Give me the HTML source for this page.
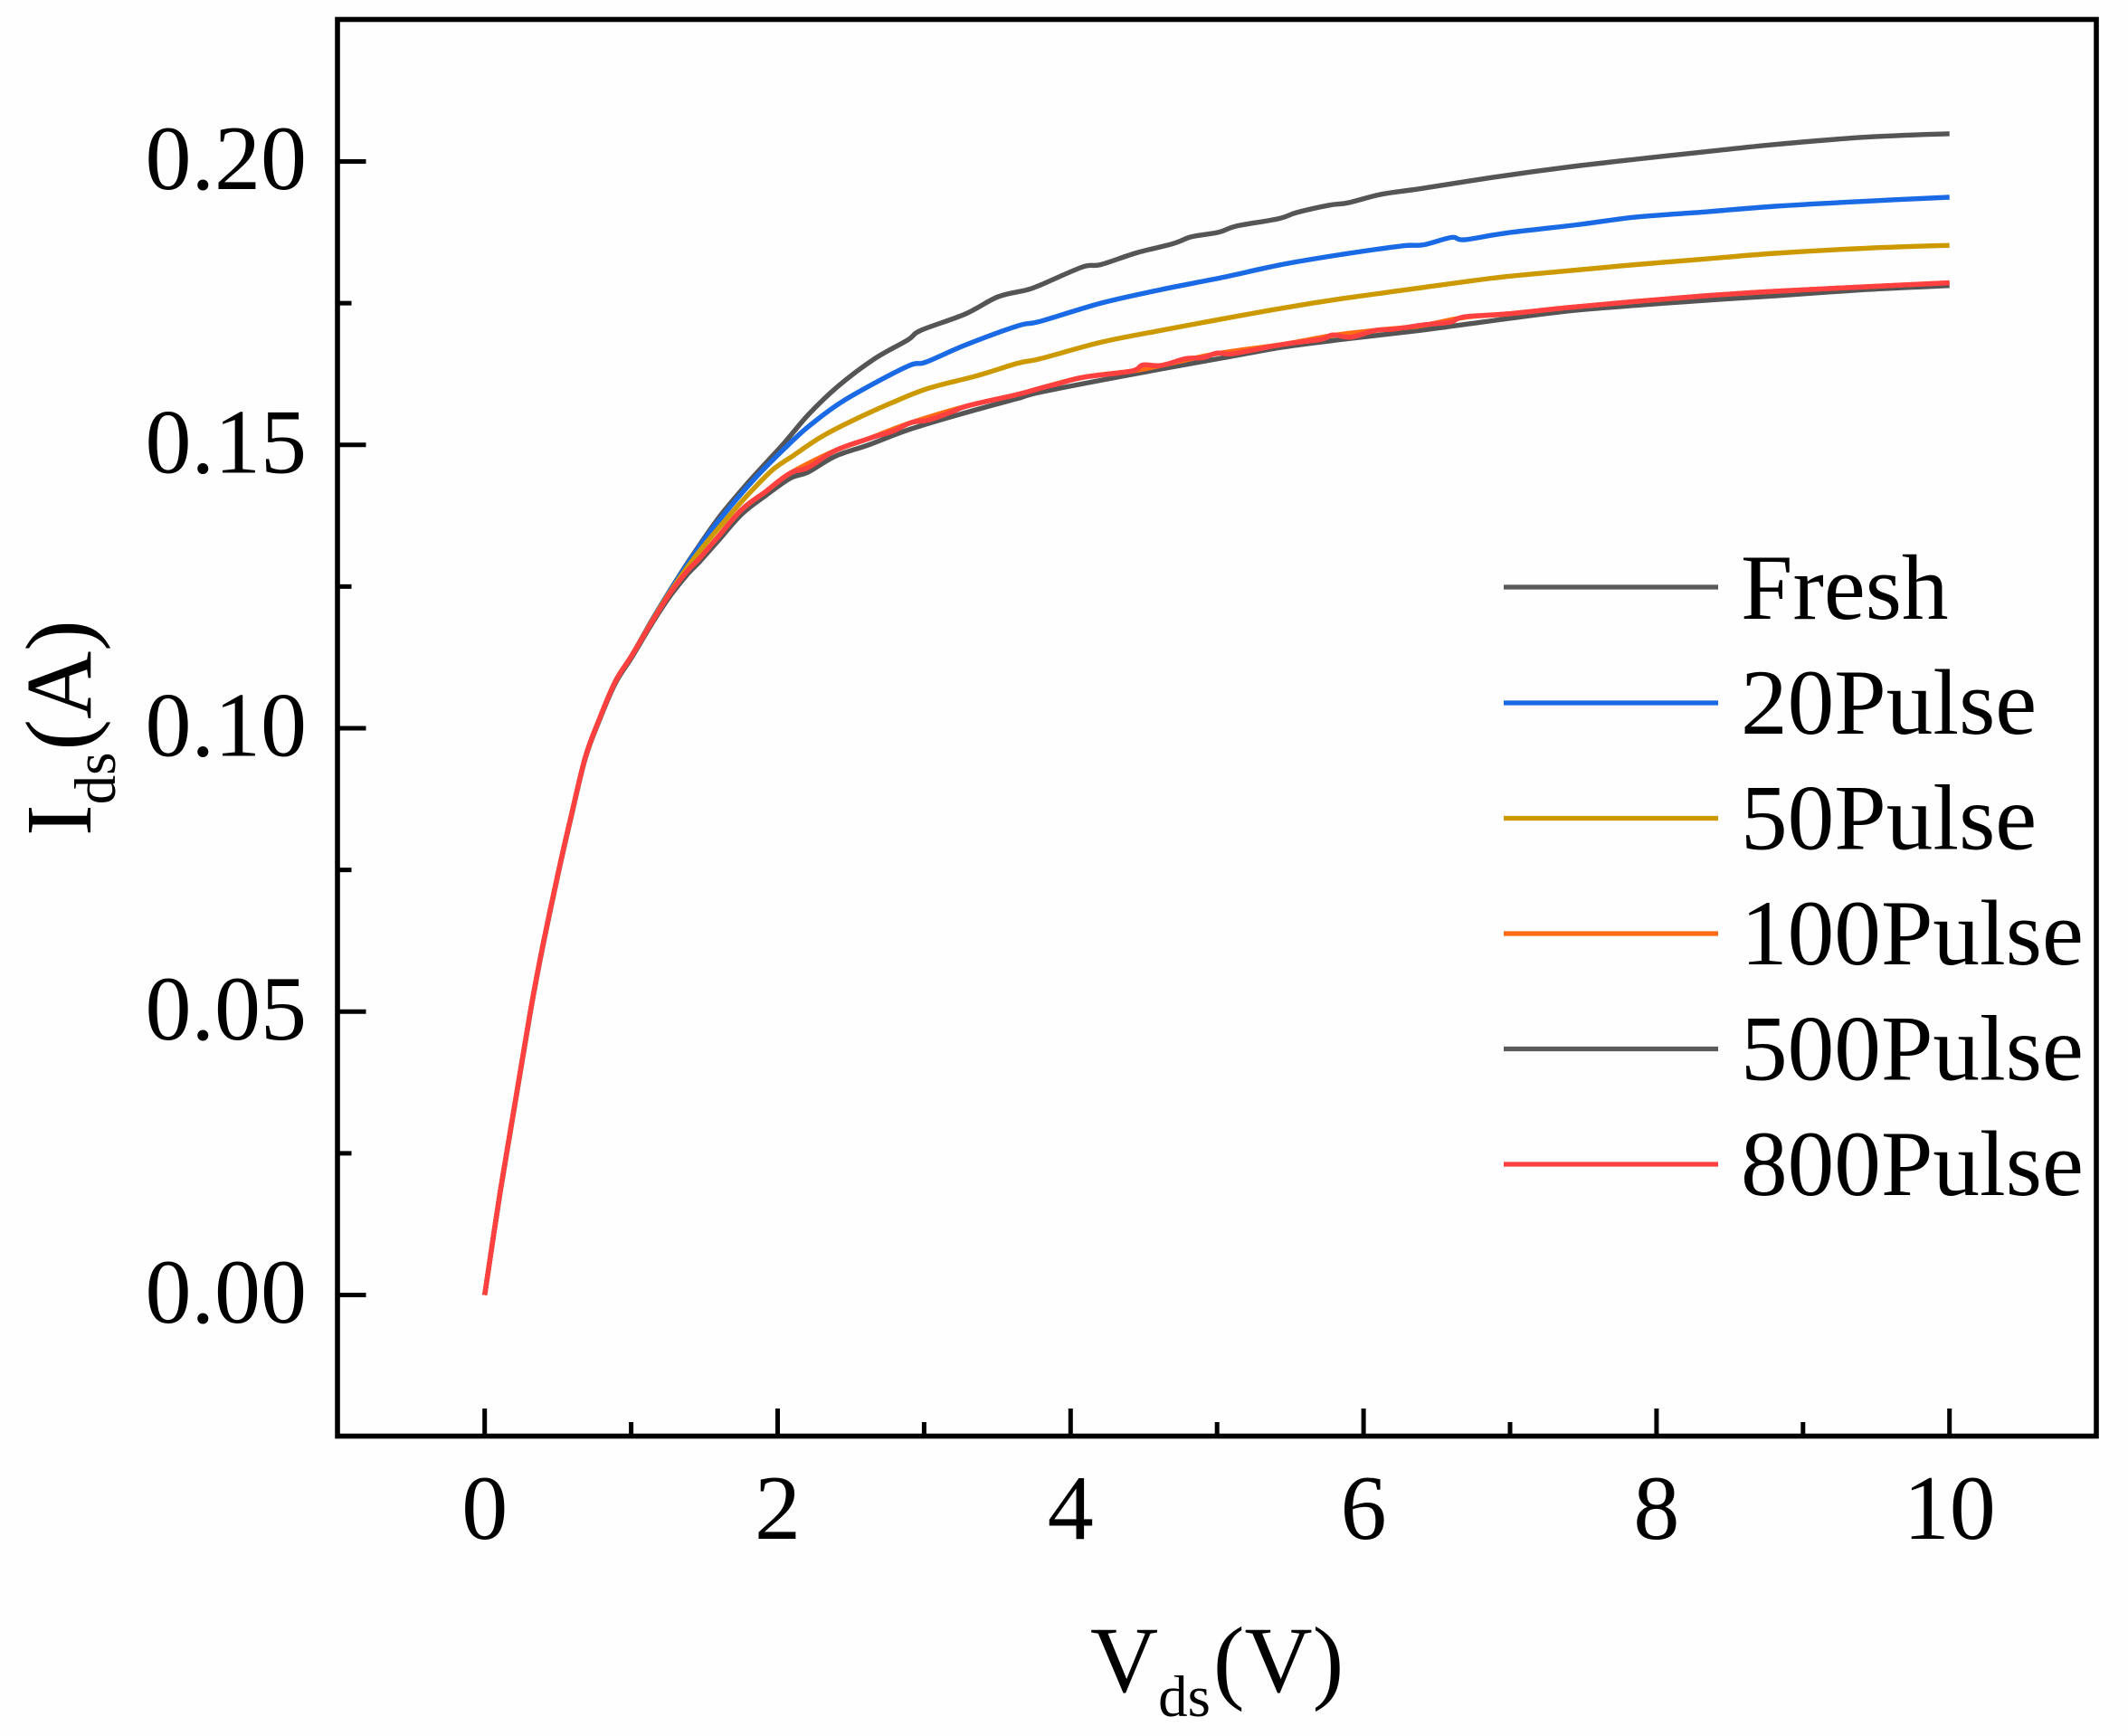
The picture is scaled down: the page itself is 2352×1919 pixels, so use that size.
<!DOCTYPE html>
<html lang="en">
<head>
<meta charset="utf-8">
<title>Ids vs Vds under pulse stress</title>
<style>
html,body{margin:0;padding:0;background:#fff;}
svg{display:block;font-family:"Liberation Serif",serif;}
text{fill:#000;}
</style>
</head>
<body>
<svg id="chart" xmlns="http://www.w3.org/2000/svg" width="2352" height="1919" viewBox="0 0 2352 1919">
  <rect x="0" y="0" width="2352" height="1919" fill="#fefefe"/>
  <g id="ticks"></g>
  <g id="series" fill="none" stroke-width="5.4" stroke-linejoin="round" stroke-linecap="butt"></g>
  <rect x="373" y="21.5" width="1944" height="1566" fill="none" stroke="#000" stroke-width="5.6"/>
  <g id="tick-labels" font-size="102"></g>

  <text font-size="104" x="1205" y="1870">V<tspan font-size="65" dy="27">ds</tspan><tspan dx="3" dy="-27">(V)</tspan></text>
  <text font-size="104" transform="translate(100,924) rotate(-90)" x="0" y="0">I<tspan font-size="65" dy="27">ds</tspan><tspan dx="2" dy="-27">(A)</tspan></text>

  <g font-size="103.3" stroke-width="0">
    <g>
      <line x1="1662" x2="1899" y1="649" y2="649" stroke="#5a5a5a" stroke-width="5.2"/>
      <text x="1924" y="684">Fresh</text>
    </g>
    <g>
      <line x1="1662" x2="1899" y1="777" y2="777" stroke="#1a6ae6" stroke-width="5.2"/>
      <text x="1924" y="811">20Pulse</text>
    </g>
    <g>
      <line x1="1662" x2="1899" y1="904.5" y2="904.5" stroke="#cc9900" stroke-width="5.2"/>
      <text x="1924" y="938.5">50Pulse</text>
    </g>
    <g>
      <line x1="1662" x2="1899" y1="1032" y2="1032" stroke="#ff6a13" stroke-width="5.2"/>
      <text x="1924" y="1066">100Pulse</text>
    </g>
    <g>
      <line x1="1662" x2="1899" y1="1159.5" y2="1159.5" stroke="#5a5a5a" stroke-width="5.2"/>
      <text x="1924" y="1193.5">500Pulse</text>
    </g>
    <g>
      <line x1="1662" x2="1899" y1="1287" y2="1287" stroke="#ff4040" stroke-width="5.2"/>
      <text x="1924" y="1321">800Pulse</text>
    </g>
  </g>
</svg>
<script>
const xTickValues = [0, 2, 4, 6, 8, 10];
const xTickLabels = ["0", "2", "4", "6", "8", "10"];
const xMinorValues = [1, 3, 5, 7, 9];
const yTickValues = [0, 0.05, 0.10, 0.15, 0.20];
const yTickLabels = ["0.00", "0.05", "0.10", "0.15", "0.20"];
const yMinorValues = [0.025, 0.075, 0.125, 0.175];

const freshV = [0,0.109,0.212,0.315,0.397,0.5,0.593,0.686,0.778,0.891,1.004,1.138,1.262,1.427,1.6,1.797,2.044,2.209,2.415,2.662,2.888,2.978,3.282,3.502,3.695,3.794,4.083,4.206,4.453,4.7,4.824,5.01,5.133,5.42,5.544,5.77,5.894,6.12,6.388,6.91,7.39,7.86,8.33,8.81,9.43,10];
const freshI = [0,0.0187,0.0346,0.0505,0.0617,0.0743,0.0848,0.0948,0.1013,0.1082,0.1128,0.1189,0.1242,0.1308,0.1372,0.1433,0.1503,0.1553,0.1604,0.1652,0.1685,0.1702,0.1731,0.1761,0.1773,0.1782,0.1814,0.1818,0.1839,0.1855,0.1867,0.1875,0.1886,0.1899,0.191,0.1923,0.1927,0.1942,0.1952,0.1973,0.199,0.2004,0.2017,0.203,0.2043,0.2049];

const pulse20V = [0,0.109,0.212,0.315,0.397,0.5,0.593,0.686,0.778,0.891,1.004,1.138,1.262,1.427,1.591,1.838,2.065,2.209,2.415,2.662,2.909,3.012,3.28,3.64,3.794,4.206,4.618,5.03,5.44,5.853,6.265,6.41,6.6,6.69,6.98,7.48,7.86,8.33,8.81,9.43,10];
const pulse20I = [0,0.0187,0.0346,0.0505,0.0617,0.0743,0.0848,0.0948,0.1013,0.1082,0.1128,0.1188,0.1241,0.1306,0.1364,0.1439,0.1498,0.1532,0.1572,0.1609,0.1641,0.1646,0.1676,0.171,0.1718,0.175,0.1774,0.1795,0.1818,0.1836,0.1851,0.1853,0.1866,0.1862,0.1874,0.1889,0.1902,0.1911,0.1921,0.193,0.1937];

const pulse50V = [0,0.109,0.212,0.315,0.397,0.5,0.593,0.686,0.778,0.891,1.004,1.138,1.262,1.447,1.653,1.797,1.962,2.106,2.291,2.497,2.786,3.033,3.362,3.64,3.794,4.206,4.618,5.03,5.44,5.853,6.388,6.91,7.39,7.86,8.33,8.81,9.43,10];
const pulse50I = [0,0.0187,0.0346,0.0505,0.0617,0.0743,0.0848,0.0948,0.1013,0.1082,0.1128,0.1187,0.1239,0.1306,0.137,0.1412,0.1455,0.1481,0.1513,0.1541,0.1575,0.16,0.1622,0.1644,0.1652,0.1681,0.1702,0.1722,0.1741,0.1758,0.1777,0.1795,0.1807,0.1818,0.1828,0.1838,0.1847,0.1852];

const pulse100V = [0,0.109,0.212,0.315,0.397,0.5,0.593,0.686,0.778,0.891,1.004,1.138,1.262,1.385,1.468,1.591,1.756,1.921,2.085,2.394,2.621,2.909,3.3,3.64,3.794,4.083,4.412,4.618,5,5.44,5.79,6.08,6.388,6.69,6.98,7.39,7.86,8.33,8.81,9.43,10];
const pulse100I = [0,0.0187,0.0346,0.0505,0.0617,0.0743,0.0848,0.0948,0.1013,0.1082,0.1128,0.1186,0.1237,0.1278,0.13,0.1337,0.1386,0.1418,0.145,0.149,0.1511,0.1539,0.1569,0.1589,0.16,0.1619,0.163,0.164,0.1661,0.1677,0.1693,0.1702,0.171,0.1725,0.1731,0.1742,0.1753,0.1763,0.1771,0.1779,0.1786];

const pulse500V = [0,0.109,0.212,0.315,0.397,0.5,0.593,0.686,0.778,0.891,1.004,1.138,1.262,1.385,1.468,1.591,1.756,1.921,2.085,2.209,2.394,2.621,2.909,3.3,3.64,3.794,4.412,5.03,5.44,5.853,6.388,6.82,7.39,7.86,8.33,8.81,9.43,10];
const pulse500I = [0,0.0185,0.0344,0.0503,0.0615,0.0741,0.0846,0.0946,0.1011,0.1079,0.1125,0.1183,0.1232,0.1272,0.1294,0.133,0.1378,0.1411,0.1441,0.1452,0.148,0.15,0.1528,0.1558,0.1582,0.1593,0.1624,0.1653,0.1672,0.1686,0.1702,0.1717,0.1736,0.1746,0.1755,0.1763,0.1774,0.1781];

const pulse800V = [0,0.109,0.212,0.315,0.397,0.5,0.593,0.686,0.778,0.891,1.004,1.138,1.262,1.385,1.468,1.591,1.756,1.921,2.085,2.209,2.394,2.621,2.786,2.909,3.033,3.197,3.3,3.64,3.794,3.918,4.083,4.412,4.494,4.618,4.783,4.906,4.999,5.112,5.44,5.709,5.79,5.915,6.08,6.203,6.388,6.5,6.6,6.69,6.98,7.39,7.86,8.33,8.81,9.43,10];
const pulse800I = [0,0.0187,0.0346,0.0505,0.0617,0.0743,0.0848,0.0948,0.1013,0.1082,0.1128,0.1186,0.1237,0.1278,0.13,0.1337,0.1386,0.1418,0.145,0.146,0.149,0.1511,0.1524,0.1539,0.1544,0.1559,0.1569,0.1589,0.16,0.1608,0.1619,0.163,0.1641,0.164,0.1652,0.1654,0.1662,0.1661,0.1677,0.1686,0.1694,0.169,0.1702,0.1704,0.1711,0.1714,0.1717,0.1726,0.1731,0.1742,0.1753,0.1763,0.1771,0.1779,0.1786];

const SVG_NS = "http://www.w3.org/2000/svg";
function xScale(v) { return 535.7 + 161.9 * v; }
function yScale(i) { return 1431.5 - 6265 * i; }

const seriesGroup = document.getElementById("series");
const tickGroup = document.getElementById("ticks");
const labelGroup = document.getElementById("tick-labels");

function smoothPath(vs, is) {
  const pts = vs.map((v, k) => [xScale(v), yScale(is[k])]);
  let d = "M" + pts[0][0].toFixed(1) + " " + pts[0][1].toFixed(1);
  for (let k = 0; k < pts.length - 1; k++) {
    const a = pts[Math.max(k - 1, 0)];
    const b = pts[k];
    const c = pts[k + 1];
    const e = pts[Math.min(k + 2, pts.length - 1)];
    const c1x = b[0] + (c[0] - a[0]) / 6;
    const c1y = b[1] + (c[1] - a[1]) / 6;
    const c2x = c[0] - (e[0] - b[0]) / 6;
    const c2y = c[1] - (e[1] - b[1]) / 6;
    d += "C" + c1x.toFixed(1) + " " + c1y.toFixed(1) + " " + c2x.toFixed(1) + " " + c2y.toFixed(1) + " " + c[0].toFixed(1) + " " + c[1].toFixed(1);
  }
  return d;
}

function drawLine(name, vs, is, color) {
  const p = document.createElementNS(SVG_NS, "path");
  
  
  p.setAttribute("d", smoothPath(vs, is));
  p.setAttribute("stroke", color);
  seriesGroup.appendChild(p);
}
drawLine("series-fresh", freshV, freshI, "#555555");
drawLine("series-20pulse", pulse20V, pulse20I, "#1a6ae6");
drawLine("series-50pulse", pulse50V, pulse50I, "#cc9900");
drawLine("series-500pulse", pulse500V, pulse500I, "#555555");
drawLine("series-100pulse", pulse100V, pulse100I, "#ff6a13");
drawLine("series-800pulse", pulse800V, pulse800I, "#ff4040");

function drawTick(name, x1, y1, x2, y2) {
  const t = document.createElementNS(SVG_NS, "line");
  
  
  t.setAttribute("x1", x1);
  t.setAttribute("y1", y1);
  t.setAttribute("x2", x2);
  t.setAttribute("y2", y2);
  t.setAttribute("stroke", "#000");
  t.setAttribute("stroke-width", "5");
  tickGroup.appendChild(t);
}
xTickValues.forEach(v => drawTick("x-major-tick", xScale(v), 1587, xScale(v), 1557));
xMinorValues.forEach(v => drawTick("x-minor-tick", xScale(v), 1587, xScale(v), 1572));
yTickValues.forEach(v => drawTick("y-major-tick", 373, yScale(v), 404.5, yScale(v)));
yMinorValues.forEach(v => drawTick("y-minor-tick", 373, yScale(v), 388.5, yScale(v)));

function drawLabel(name, x, y, anchor, str) {
  const t = document.createElementNS(SVG_NS, "text");
  
  
  t.setAttribute("x", x);
  t.setAttribute("y", y);
  t.setAttribute("text-anchor", anchor);
  t.textContent = str;
  labelGroup.appendChild(t);
}
xTickValues.forEach((v, k) => drawLabel("x-tick-label", xScale(v), 1701, "middle", xTickLabels[k]));
yTickValues.forEach((v, k) => drawLabel("y-tick-label", 339, yScale(v) + 30.5, "end", yTickLabels[k]));
</script>
</body>
</html>
